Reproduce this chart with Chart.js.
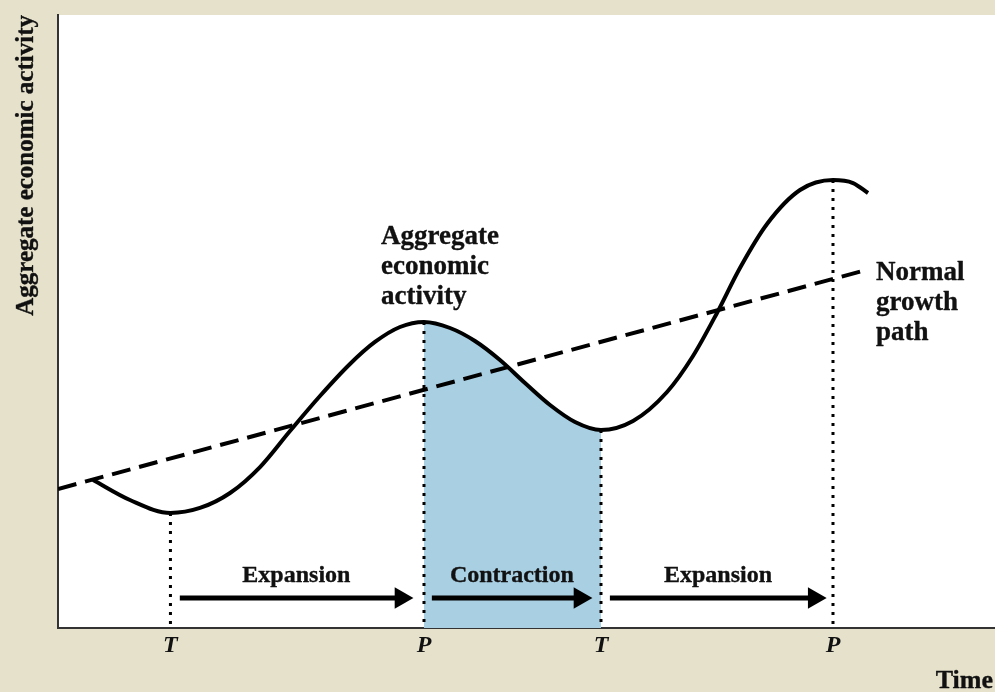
<!DOCTYPE html>
<html><head><meta charset="utf-8">
<script src="https://cdn.jsdelivr.net/npm/chart.js@4.4.1/dist/chart.umd.min.js"></script>
<style>html,body{margin:0;padding:0;background:#e5e1cb;} canvas{display:block}</style>
</head><body>
<canvas id="c" width="995" height="692"></canvas>
<script>
// ---- data (arbitrary time units 0..100, activity units 0..100) ----
const curveX = [3.74, 7.68, 12.0, 15.15, 18.36, 21.56, 24.76, 27.96, 31.16, 33.83, 36.50, 39.06, 41.84, 44.50, 47.17, 49.84, 52.51, 55.18, 57.95, 61.37, 65.00, 67.77, 70.33, 72.78, 75.67, 79.19, 82.71, 84.85, 86.45];
const curveY = [24.14, 20.88, 18.76, 19.58, 22.02, 26.26, 32.14, 37.85, 43.07, 46.66, 49.10, 49.92, 48.94, 46.82, 43.72, 39.97, 36.38, 33.61, 32.30, 33.77, 38.50, 44.37, 51.39, 58.73, 65.91, 71.45, 73.08, 72.59, 70.96];
const normalX = [0, 86.23];
const normalY = [22.68, 58.4];
const turnX = [12.0, 39.06, 57.95, 82.71];
const turnY = [18.76, 49.92, 32.30, 73.08];
const turnLabels = ['T', 'P', 'T', 'P'];
const phaseLabels = ['Expansion', 'Contraction', 'Expansion'];
const phaseStart = [13.0, 39.9, 58.9];
const phaseEnd = [36.6, 55.7, 80.7];
const arrowLevel = 4.9;
const yTitle = 'Aggregate economic activity';
const xTitle = 'Time';
const curveLabel = ['Aggregate', 'economic', 'activity'];
const normalLabel = ['Normal', 'growth', 'path'];

// ---- styles ----
const BG = '#e5e1cb';
const SHADE = '#a8cfe2';
const INK = '#000000';
const TXT = '#111111';
const FONT = '"Liberation Serif", "DejaVu Serif", serif';
const shadeFrom = turnX[1], shadeTo = turnX[2];

const pts = (xs, ys) => xs.map((x, i) => ({x, y: ys[i]}));

const datasets = [];
// shaded contraction area (same curve, fill only between P and T)
datasets.push({
  data: pts(curveX, curveY), order: 10, borderWidth: 0, pointRadius: 0,
  borderColor: 'rgba(0,0,0,0)', backgroundColor: 'rgba(0,0,0,0)',
  fill: 'start', cubicInterpolationMode: 'monotone',
  segment: { backgroundColor: c => (c.p0.parsed.x >= shadeFrom - 1e-6 && c.p1.parsed.x <= shadeTo + 1e-6) ? SHADE : 'rgba(0,0,0,0)' }
});
// dotted verticals at turning points
turnX.forEach((x, i) => datasets.push({
  data: [{x, y: turnY[i]}, {x, y: 0}], order: 5, borderColor: INK, borderWidth: 3,
  borderDash: [3, 6], pointRadius: 0, fill: false
}));
// normal growth path
datasets.push({
  data: pts(normalX, normalY), order: 4, borderColor: INK, borderWidth: 4,
  borderDash: [19, 9], pointRadius: 0, fill: false
});
// arrows
phaseStart.forEach((s, i) => datasets.push({
  data: [{x: s, y: arrowLevel}, {x: phaseEnd[i], y: arrowLevel}], order: 3,
  borderColor: INK, borderWidth: 5, borderCapStyle: 'butt', fill: false,
  pointRadius: [0, 12.5], pointStyle: 'triangle', pointRotation: 90,
  pointBackgroundColor: INK, pointBorderColor: INK, pointBorderWidth: 0
}));
// aggregate economic activity curve
datasets.push({
  data: pts(curveX, curveY), order: 1, borderColor: INK, borderWidth: 4,
  cubicInterpolationMode: 'monotone', pointRadius: 0, fill: false, borderCapStyle: 'butt'
});

function boldText(ctx, t, px, py) {
  ctx.fillText(t, px, py);
  ctx.strokeText(t, px, py);
}

const textPlugin = {
  id: 'texts',
  beforeDraw(chart) {
    const {ctx, chartArea: a} = chart;
    ctx.save();
    ctx.fillStyle = BG;
    ctx.fillRect(0, 0, chart.width, chart.height);
    ctx.fillStyle = '#ffffff';
    ctx.fillRect(a.left, a.top, a.right - a.left, a.bottom - a.top);
    ctx.restore();
  },
  afterDatasetsDraw(chart) {
    const {ctx, scales: {x, y}, chartArea: a} = chart;
    ctx.save();
    ctx.fillStyle = TXT; ctx.strokeStyle = TXT; ctx.lineWidth = 0.35; ctx.lineJoin = 'round';
    // phase labels
    ctx.font = 'bold 24px ' + FONT;
    ctx.textAlign = 'center'; ctx.textBaseline = 'alphabetic';
    phaseLabels.forEach((t, i) => {
      const cx = (x.getPixelForValue(phaseStart[i]) + x.getPixelForValue(phaseEnd[i]) + 12) / 2;
      boldText(ctx, t, cx, y.getPixelForValue(arrowLevel) - 16);
    });
    // curve and trend labels
    ctx.font = 'bold 27px ' + FONT;
    ctx.textAlign = 'left';
    curveLabel.forEach((t, i) => boldText(ctx, t, x.getPixelForValue(34.47), y.getPixelForValue(62.6) + i * 30));
    normalLabel.forEach((t, i) => boldText(ctx, t, x.getPixelForValue(87.3), y.getPixelForValue(56.8) + i * 30));
    // x title
    ctx.font = 'bold 26px ' + FONT;
    ctx.textAlign = 'right';
    boldText(ctx, xTitle, chart.width - 2, chart.height - 4);
    // y title
    ctx.font = 'bold 25px ' + FONT;
    ctx.translate(33, a.top);
    ctx.rotate(-Math.PI / 2);
    ctx.textAlign = 'right';
    boldText(ctx, yTitle, 0, 0);
    ctx.restore();
  }
};

new Chart(document.getElementById('c'), {
  type: 'line',
  data: { datasets },
  plugins: [textPlugin],
  options: {
    responsive: false, animation: false, events: [],
    layout: { autoPadding: false, padding: { top: 15, right: 0, left: 0, bottom: 0 } },
    plugins: { legend: { display: false }, tooltip: { enabled: false } },
    scales: {
      x: {
        type: 'linear', min: 0, max: 100,
        grid: { display: false, drawTicks: false },
        border: { display: true, color: '#333', width: 2 },
        afterBuildTicks: s => { s.ticks = turnX.map(v => ({value: v})); },
        afterFit: s => { s.height = 64; s.paddingLeft = 0; s.paddingRight = 0; },
        ticks: {
          autoSkip: false, maxRotation: 0, padding: 3, color: TXT,
          font: { family: FONT, size: 24, style: 'italic', weight: 'bold' },
          callback: (v, i) => turnLabels[i]
        }
      },
      y: {
        type: 'linear', min: 0, max: 100,
        grid: { display: false, drawTicks: false },
        border: { display: true, color: '#333', width: 2 },
        ticks: { display: false },
        afterFit: s => { s.width = 58; s.paddingTop = 0; s.paddingBottom = 0; }
      }
    }
  }
});
</script>
</body></html>
